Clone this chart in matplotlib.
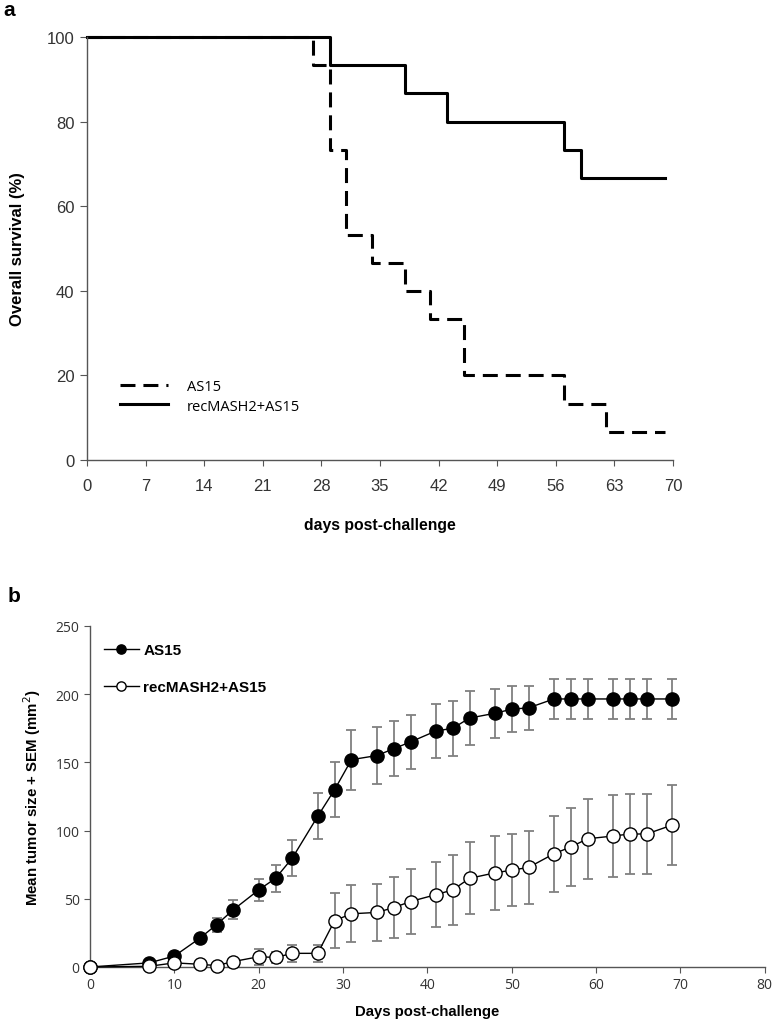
import numpy as np
import matplotlib.pyplot as plt

# --- panel a: Kaplan-Meier survival ---
as15_t = [0, 27, 29, 31, 34, 38, 41, 45, 57, 62, 69]
as15_s = [100, 93.3, 73.3, 53.3, 46.7, 40, 33.3, 20, 13.3, 6.7, 6.7]
rec_t = [0, 29, 38, 43, 57, 59, 69]
rec_s = [100, 93.3, 86.7, 80, 73.3, 66.7, 66.7]
km_xticks = [0, 7, 14, 21, 28, 35, 42, 49, 56, 63, 70]
km_yticks = [0, 20, 40, 60, 80, 100]

# --- panel b: mean tumor size + SEM ---
days = [0, 7, 10, 13, 15, 17, 20, 22, 24, 27, 29, 31, 34, 36, 38, 41, 43, 45,
        48, 50, 52, 55, 57, 59, 62, 64, 66, 69]
as15_mean = [0, 3, 8, 21, 31, 42, 56.5, 65, 80, 110.5, 130, 152, 155, 160, 165,
             173, 175, 182.5, 186, 189, 190, 196.5, 196.5, 196.5, 196.5, 196.5, 196.5, 196.5]
as15_sem = [0, 1, 1.5, 2, 5, 7, 8, 10, 13, 17, 20, 22, 21, 20, 20, 20, 20, 20,
            18, 17, 16, 15, 15, 15, 15, 15, 15, 15]
rec_mean = [0, 0.5, 3, 2, 1, 4, 7.5, 7, 10, 10, 34, 39, 40, 43.5, 48, 53, 56.5, 65,
            69, 71, 73, 83, 88, 94, 96, 97.5, 97.5, 104]
rec_sem = [0, 0.5, 1, 1, 1, 2, 6, 4, 6, 6, 20, 21, 21, 22.5, 23.5, 24, 25.5, 26.5,
           27, 26.5, 27, 28, 28.5, 29.5, 30, 29.5, 29.5, 29.5]

fig = plt.figure(figsize=(7.72, 10.2), dpi=100)

# panel a
ax1 = fig.add_axes([0.1127, 0.548, 0.759, 0.4147])
ax1.plot(as15_t, as15_s, drawstyle='steps-post', color='black', lw=2.2,
         dashes=(4.9, 2.6), label='AS15', clip_on=False)
ax1.plot(rec_t, rec_s, drawstyle='steps-post', color='black', lw=2.2,
         label='recMASH2+AS15', clip_on=False)
ax1.set_xlim(0, 70)
ax1.set_ylim(0, 100)
ax1.set_xticks(km_xticks)
ax1.set_yticks(km_yticks)
for s in ['top', 'right']:
    ax1.spines[s].set_visible(False)
for s in ['left', 'bottom']:
    ax1.spines[s].set_color('#555555')
    ax1.spines[s].set_linewidth(1.0)
ax1.tick_params(axis='x', direction='out', length=4, pad=9, color='#555555', labelsize=12)
ax1.tick_params(axis='y', direction='out', length=5, pad=4, color='#555555', labelsize=12)
for lab in ax1.get_xticklabels() + ax1.get_yticklabels():
    lab.set_fontfamily('Liberation Sans')
    lab.set_color('#333333')
ax1.set_xlabel('days post-challenge', fontsize=11.3, fontweight='bold',
               family='Liberation Sans', labelpad=17)
ax1.set_ylabel('Overall survival (%)', fontsize=12, fontweight='bold',
               family='Liberation Sans', labelpad=16)
ax1.legend(loc='lower left', bbox_to_anchor=(0.056, 0.11), frameon=False,
           borderpad=0, borderaxespad=0,
           prop={'family': 'Open Sans', 'size': 10.5}, handlelength=3.3,
           handletextpad=1.3, labelspacing=0.3)
fig.text(0.005, 0.999, 'a', fontsize=15, fontweight='bold', family='Liberation Sans',
         va='top')

# panel b
ax2 = fig.add_axes([0.1166, 0.051, 0.874, 0.3343])
ax2.errorbar(days, as15_mean, yerr=as15_sem, fmt='none', ecolor='#808080',
             elinewidth=1.3, capsize=3.5, capthick=1.3, zorder=1)
ax2.errorbar(days, rec_mean, yerr=rec_sem, fmt='none', ecolor='#808080',
             elinewidth=1.3, capsize=3.5, capthick=1.3, zorder=1)
ax2.plot(days, as15_mean, '-o', color='black', lw=1.0, ms=9.5,
         mfc='black', mec='black', label='AS15', clip_on=False, zorder=3)
ax2.plot(days, rec_mean, '-o', color='black', lw=1.0, ms=9.5,
         mfc='white', mec='black', mew=1.0, label='recMASH2+AS15',
         clip_on=False, zorder=3)
ax2.set_xlim(0, 80)
ax2.set_ylim(0, 250)
ax2.set_xticks(range(0, 81, 10))
ax2.set_yticks(range(0, 251, 50))
for s in ['top', 'right']:
    ax2.spines[s].set_visible(False)
for s in ['left', 'bottom']:
    ax2.spines[s].set_color('#555555')
    ax2.spines[s].set_linewidth(1.0)
ax2.tick_params(direction='out', length=4, color='#555555', labelsize=10)
for lab in ax2.get_xticklabels() + ax2.get_yticklabels():
    lab.set_fontfamily('Open Sans')
    lab.set_color('#333333')
ax2.set_xlabel('Days post-challenge', fontsize=10.7, fontweight='bold',
               family='Liberation Sans', labelpad=8)
ax2.set_ylabel('Mean tumor size + SEM (mm$^2$)', fontsize=10.8, fontweight='bold',
               family='Liberation Sans', labelpad=9)
ax2.legend(loc='upper left', bbox_to_anchor=(0.0, 0.99), frameon=False,
           prop={'family': 'Liberation Sans', 'size': 11, 'weight': 'bold'},
           handlelength=2.3, handletextpad=0.3, labelspacing=1.5, markerscale=0.7)
fig.text(0.01, 0.425, 'b', fontsize=15, fontweight='bold', family='Liberation Sans',
         va='top')

fig.savefig('out.png', dpi=100)
